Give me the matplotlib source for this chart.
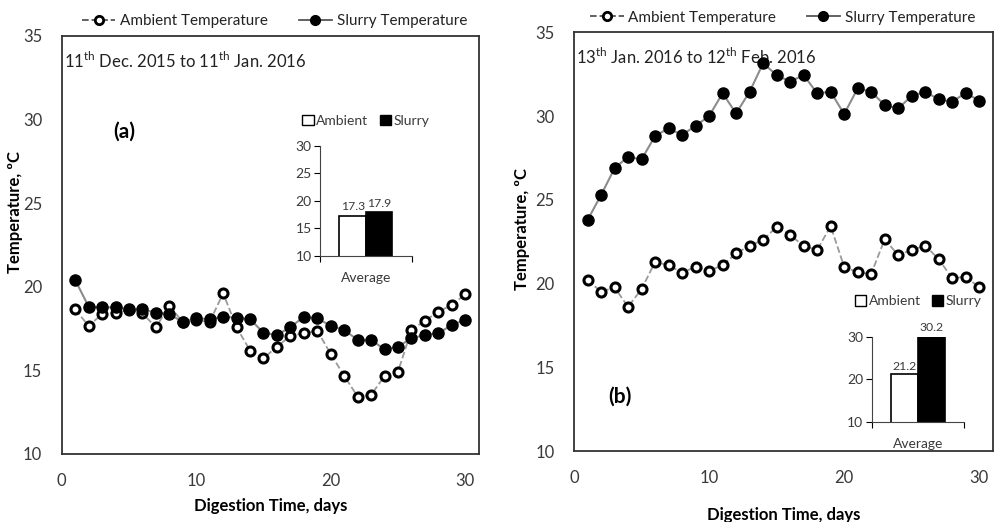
import matplotlib
matplotlib.use("Agg")
import matplotlib.pyplot as plt
from matplotlib.lines import Line2D
from matplotlib.patches import Patch

plt.rcParams['font.family'] = ['Lato', 'DejaVu Sans']
plt.rcParams['mathtext.fontset'] = 'custom'
plt.rcParams['mathtext.rm'] = 'Lato'

# ---- data ----
days = list(range(1, 31))

# (a) 11th Dec. 2015 to 11th Jan. 2016
ambient_a = [18.65, 17.66, 18.37, 18.45, 18.6, 18.41, 17.58, 18.85, 17.9, 18.0,
             17.9, 19.61, 17.58, 16.18, 15.72, 16.42, 17.06, 17.22, 17.37, 15.98,
             14.67, 13.43, 13.53, 14.67, 14.92, 17.42, 17.97, 18.51, 18.91, 19.55]
slurry_a = [20.41, 18.81, 18.77, 18.77, 18.65, 18.65, 18.45, 18.37, 17.89, 18.12,
            18.06, 18.21, 18.15, 18.06, 17.25, 17.12, 17.58, 18.21, 18.12, 17.66,
            17.42, 16.82, 16.82, 16.26, 16.42, 16.92, 17.12, 17.22, 17.72, 18.01]

# (b) 13th Jan. 2016 to 12th Feb. 2016
ambient_b = [20.21, 19.51, 19.77, 18.61, 19.67, 21.28, 21.1, 20.64, 21.0, 20.75,
             21.1, 21.8, 22.26, 22.6, 23.39, 22.9, 22.24, 22.0, 23.43, 21.0,
             20.67, 20.57, 22.64, 21.7, 22.0, 22.26, 21.46, 20.31, 20.41, 19.77]
slurry_b = [23.79, 25.28, 26.88, 27.57, 27.41, 28.81, 29.27, 28.87, 29.42, 30.0,
            31.36, 30.16, 31.45, 33.15, 32.45, 32.05, 32.45, 31.36, 31.45, 30.12,
            31.65, 31.45, 30.66, 30.46, 31.19, 31.45, 31.0, 30.85, 31.39, 30.91]

avg_labels = ['Ambient', 'Slurry']
avg_a = [17.3, 17.9]
avg_b = [21.2, 30.2]

TXT = '#3a3a3a'


def main_panel(fig, rect, amb, slu, period, tag, tag_xy, ylab_xy, xlab_pad, leg_x):
    ax = fig.add_axes(rect)
    ax.plot(days, amb, ls='--', color='#9a9a9a', lw=1.3, marker='o', ms=6.5,
            mfc='white', mec='black', mew=2.2, zorder=3)
    ax.plot(days, slu, ls='-', color='#8c8c8c', lw=1.5, marker='o', ms=8,
            mfc='black', mec='black', zorder=4)
    ax.set_xlim(0, 31)
    ax.set_ylim(10, 35)
    ax.set_xticks([0, 10, 20, 30])
    ax.set_yticks([10, 15, 20, 25, 30, 35])
    ax.tick_params(length=0, labelsize=12, labelcolor=TXT, pad=14)
    for s in ax.spines.values():
        s.set_color('#333333')
        s.set_linewidth(1.3)
    ax.set_xlabel('Digestion Time, days', fontsize=12, fontweight='bold', labelpad=xlab_pad)
    ax.set_ylabel('Temperature, \u00baC', fontsize=12, fontweight='bold')
    ax.yaxis.set_label_coords(*ylab_xy)
    ax.text(0.005, 0.965, period, transform=ax.transAxes, fontsize=12,
            color='#222222', va='top', ha='left')
    ax.text(tag_xy[0], tag_xy[1], tag, transform=ax.transAxes, fontsize=15,
            fontweight='bold', ha='center', va='center')
    handles = [
        Line2D([], [], ls='--', color='#555555', lw=1.3, marker='o', ms=6,
               mfc='white', mec='black', mew=2),
        Line2D([], [], ls='-', color='#555555', lw=1.3, marker='o', ms=7,
               mfc='black', mec='black'),
    ]
    ax.legend(handles, ['Ambient Temperature', 'Slurry Temperature'], ncol=2,
              loc='lower left', bbox_to_anchor=(leg_x, 1.0), frameon=False,
              fontsize=11, handlelength=2.2, handletextpad=0.3, columnspacing=2.0,
              borderaxespad=0.1, labelcolor='#222222')
    return ax


def inset(fig, rect, vals, yticks, leg_y):
    ax = fig.add_axes(rect)
    ax.bar([0.355, 0.645], vals, width=0.29, bottom=0, color=['white', 'black'],
           edgecolor='black', linewidth=1.2)
    ax.set_xlim(0, 1)
    ax.set_ylim(10, 30)
    ax.set_yticks(yticks)
    ax.set_xticks([0, 1])
    ax.set_xticklabels(['', ''])
    ax.tick_params(axis='y', length=4, labelsize=10, labelcolor=TXT, pad=2)
    ax.tick_params(axis='x', length=4)
    ax.spines['top'].set_visible(False)
    ax.spines['right'].set_visible(False)
    ax.spines['left'].set_color('#444444')
    ax.spines['bottom'].set_color('#444444')
    ax.set_xlabel('Average', fontsize=10, color=TXT, labelpad=4)
    for x, v in zip([0.355, 0.645], vals):
        ax.text(x, v + 0.6, f'{v}', ha='center', va='bottom', fontsize=8.8, color=TXT)
    hs = [Patch(facecolor='white', edgecolor='black', lw=1),
          Patch(facecolor='black', edgecolor='black', lw=1)]
    ax.legend(hs, avg_labels, ncol=2, loc='lower center', bbox_to_anchor=(0.5, leg_y),
              frameon=False, fontsize=10, handlelength=0.8, handleheight=0.8,
              handletextpad=0.2, columnspacing=0.8, borderaxespad=0, labelcolor=TXT)
    return ax


fig = plt.figure(figsize=(9.94, 5.22), dpi=100)

main_panel(fig, [0.0621, 0.1303, 0.4195, 0.8008], ambient_a, slurry_a,
           '11$^{\\rm th}$ Dec. 2015 to 11$^{\\rm th}$ Jan. 2016', '(a)',
           (0.15, 0.77), (-0.093, 0.58), 6, 0.03)
main_panel(fig, [0.5775, 0.136, 0.4212, 0.8021], ambient_b, slurry_b,
           '13$^{\\rm th}$ Jan. 2016 to 12$^{\\rm th}$ Feb. 2016', '(b)',
           (0.11, 0.13), (-0.105, 0.53), 15, 0.02)

inset(fig, [0.322, 0.5102, 0.0922, 0.2107], avg_a, [10, 15, 20, 25, 30], 1.12)
inset(fig, [0.877, 0.1921, 0.0932, 0.1628], avg_b, [10, 20, 30], 1.28)

fig.savefig('out.png', dpi=100)
